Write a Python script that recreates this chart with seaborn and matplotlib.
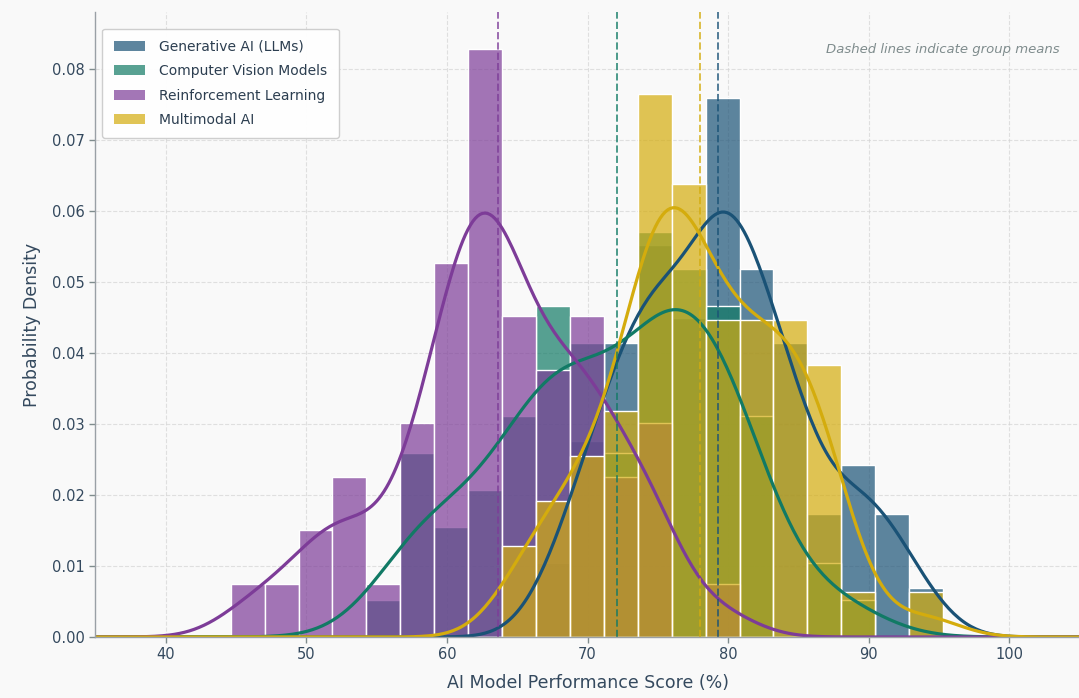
import numpy as np
import pandas as pd
import matplotlib
matplotlib.use("Agg")
import matplotlib.pyplot as plt
import seaborn as sns
from matplotlib.patches import Patch

# ---------------- data ----------------
groups = ["Generative AI (LLMs)", "Computer Vision Models",
          "Reinforcement Learning", "Multimodal AI"]
colors = ["#1a5276", "#117a65", "#7d3c98", "#d4ac0d"]

# common histogram bins
bin_start = 44.62
bin_width = 2.413
n_bins = 21

# sample counts per bin for each group
counts_genai = [0, 0, 0, 0, 0, 0, 0, 0, 0, 3, 8, 12, 16, 13, 22, 15, 12, 5, 7, 5, 2]
counts_cv    = [0, 0, 0, 0, 1, 5, 3, 4, 6, 9, 8, 5, 11, 10, 9, 6, 0, 2, 1, 0, 0]
counts_rl    = [1, 1, 2, 3, 1, 4, 7, 11, 6, 5, 6, 3, 4, 0, 1, 0, 0, 0, 0, 0, 0]
counts_mm    = [0, 0, 0, 0, 0, 0, 0, 0, 2, 3, 4, 5, 12, 10, 7, 7, 7, 6, 1, 0, 1]

# group means (dashed lines)
group_means = [79.3, 72.1, 63.6, 78.0]

x_ticks = [40, 50, 60, 70, 80, 90, 100]
y_ticks = [0.00, 0.01, 0.02, 0.03, 0.04, 0.05, 0.06, 0.07, 0.08]

# ---------------- build long data ----------------
edges = bin_start + bin_width * np.arange(n_bins + 1)
centers = (edges[:-1] + edges[1:]) / 2
all_counts = [counts_genai, counts_cv, counts_rl, counts_mm]
frames = []
for g, c in zip(groups, all_counts):
    frames.append(pd.DataFrame({"score": np.repeat(centers, c), "group": g}))
df = pd.concat(frames, ignore_index=True)

# ---------------- plot ----------------
sns.set_theme(style="whitegrid")
plt.rcParams["font.family"] = ["DejaVu Sans"]

bg = "#f9f9f9"
fig = plt.figure(figsize=(10.79, 6.98), dpi=100, facecolor=bg)
ax = fig.add_axes([0.0885, 0.0874, 0.912, 0.895])
ax.set_facecolor(bg)

alpha = 0.7
for g, col in zip(groups, colors):
    sub = df[df["group"] == g]
    sns.histplot(data=sub, x="score", bins=edges, stat="density",
                 color=col, alpha=alpha, edgecolor="white", linewidth=1.0,
                 ax=ax)

bw_adj = [0.95, 1.0, 0.78, 0.9]
for g, col, bw in zip(groups, colors, bw_adj):
    sub = df[df["group"] == g]
    sns.kdeplot(data=sub, x="score", color=col, linewidth=2.3,
                bw_adjust=bw, cut=30, clip=(35, 105), gridsize=400, ax=ax)

for m, col in zip(group_means, colors):
    ax.axvline(m, color=col, linestyle="--", linewidth=1.4, alpha=0.75)

ax.set_xlim(35, 105)
ax.set_ylim(0, 0.088)
ax.set_xticks(x_ticks)
ax.set_yticks(y_ticks)
ax.yaxis.set_major_formatter(matplotlib.ticker.FormatStrFormatter("%.2f"))

ax.grid(True, linestyle="--", color="#d5d5d5", linewidth=0.8, alpha=0.7)
ax.set_axisbelow(True)

for s in ["top", "right"]:
    ax.spines[s].set_visible(False)
for s in ["left", "bottom"]:
    ax.spines[s].set_color("#9aa0a6")
    ax.spines[s].set_linewidth(1.0)

ax.tick_params(axis="both", which="major", length=4, width=1,
               color="#7f8c8d", labelsize=10.5, labelcolor="#34495e",
               bottom=True, left=True)

ax.set_xlabel("AI Model Performance Score (%)", fontsize=12.5,
              color="#34495e", labelpad=8)
ax.set_ylabel("Probability Density", fontsize=12.5,
              color="#34495e", labelpad=8)

handles = [Patch(facecolor=c, alpha=alpha, edgecolor="none", label=g)
           for g, c in zip(groups, colors)]
leg = ax.legend(handles=handles, loc="upper left",
                bbox_to_anchor=(0.0, 0.985), fontsize=10,
                frameon=True, fancybox=True, framealpha=0.95,
                edgecolor="#cccccc", facecolor="white",
                borderpad=0.8, handlelength=2.3, handletextpad=1.0,
                labelspacing=0.75)
for t in leg.get_texts():
    t.set_color("#2c3e50")

ax.text(0.98, 0.94, "Dashed lines indicate group means",
        transform=ax.transAxes, ha="right", va="center",
        fontsize=9.5, style="italic", color="#7f8c8d")

fig.savefig("out.png", dpi=100, facecolor=bg)
